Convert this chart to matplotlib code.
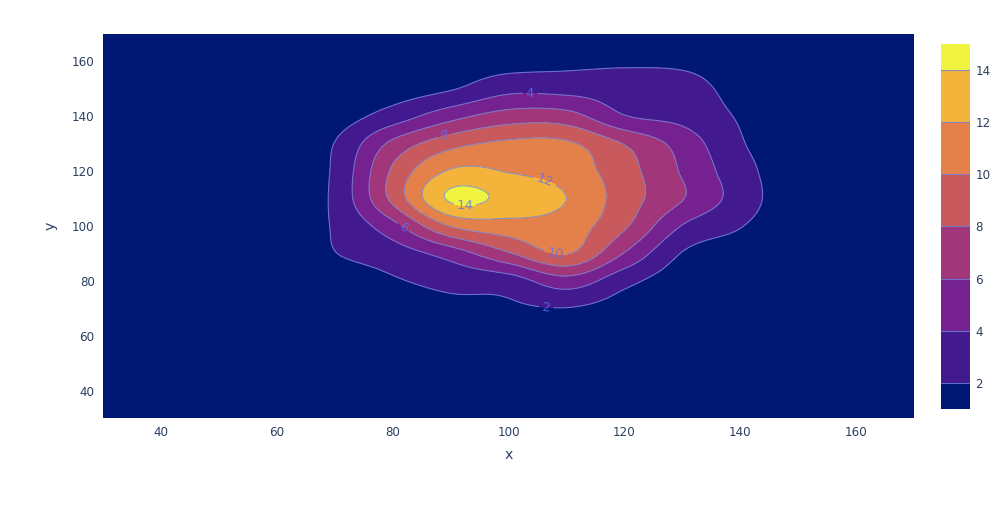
import numpy as np
import matplotlib
matplotlib.use('Agg')
import matplotlib.pyplot as plt
from matplotlib.colors import ListedColormap, BoundaryNorm
import matplotlib as mpl

plt.rcParams['font.family'] = ['DejaVu Sans']

# grid coordinates
xs = [30, 40, 50, 60, 70, 80, 90, 100, 110, 120, 130, 140, 150, 160, 170]
ys = [30, 40, 50, 60, 70, 80, 90, 100, 110, 120, 130, 140, 150, 160, 170]

# z values, one row per y (bottom to top)
z = [
    [.5, .5, .5, .5, .5, .5, .5, .5, .5, .5, .5, .5, .5, .5, .5],
    [.5, .5, .5, .5, .5, .5, .5, .5, .5, .5, .5, .5, .5, .5, .5],
    [.5, .5, .5, .5, .5, .5, .5, .5, .5, .5, .5, .5, .5, .5, .5],
    [.5, .5, .5, .5, .5, .6, .7, .8, .9, .7, .5, .5, .5, .5, .5],
    [.5, .5, .5, .5, .6, 1.0, 1.5, 1.7, 1.95, 1.2, .8, .6, .5, .5, .5],
    [.5, .5, .5, .5, 1.0, 1.8, 2.6, 3.0, 5.2, 2.6, 1.0, .6, .5, .5, .5],
    [.5, .5, .5, .5, 1.95, 3.0, 4.9, 7.8, 10.1, 5.9, 1.9, 1.0, .5, .5, .5],
    [.5, .5, .5, .6, 2.2, 5.3, 10.1, 11.2, 11.0, 8.3, 3.9, 2.1, .6, .5, .5],
    [.5, .5, .5, .6, 2.4, 8.5, 14.3, 13.4, 12.0, 9.0, 6.1, 3.1, .6, .5, .5],
    [.5, .5, .5, .6, 2.3, 8.3, 12.2, 11.9, 11.1, 8.8, 5.8, 2.8, .6, .5, .5],
    [.5, .5, .5, .6, 2.05, 6.5, 9.3, 10.4, 10.3, 7.9, 5.2, 2.2, .6, .5, .5],
    [.5, .5, .5, .5, 1.1, 2.9, 5.3, 6.9, 6.8, 4.1, 3.4, 1.8, .5, .5, .5],
    [.5, .5, .5, .5, .8, 1.1, 1.85, 3.4, 3.3, 3.0, 2.8, 1.3, .5, .5, .5],
    [.5, .5, .5, .5, .5, .6, 1.0, 1.2, 1.5, 1.7, 1.6, 1.0, .5, .5, .5],
    [.5, .5, .5, .5, .5, .5, .5, .5, .5, .5, .5, .5, .5, .5, .5],
]

levels = [2, 4, 6, 8, 10, 12, 14]
band_colors = ['#001774', '#43198f', '#75218f', '#a2367a', '#c85a5e',
               '#e4814a', '#f4b33b', '#f0f33f']
label_spots = [(106.5, 69.3), (103.7, 148.5), (81.8, 99.5), (88.7, 134),
               (108.1, 89.3), (106, 114.7), (92.5, 107.8)]


def cr_up(a, n, axis):
    # catmull-rom resampling along one axis, only to smooth the drawn lines
    a = np.moveaxis(a, axis, 0)
    m = a.shape[0]
    t = np.linspace(0, m - 1, (m - 1) * n + 1)
    i = np.clip(np.floor(t).astype(int), 0, m - 2)
    f = (t - i).reshape((-1,) + (1,) * (a.ndim - 1))
    p0 = a[np.clip(i - 1, 0, m - 1)]
    p1 = a[i]
    p2 = a[i + 1]
    p3 = a[np.clip(i + 2, 0, m - 1)]
    out = 0.5 * (2 * p1 + (-p0 + p2) * f + (2 * p0 - 5 * p1 + 4 * p2 - p3) * f ** 2
                 + (-p0 + 3 * p1 - 3 * p2 + p3) * f ** 3)
    return np.moveaxis(out, 0, axis)


Z = np.array(z, dtype=float)
k = 10
Zs = cr_up(cr_up(Z, k, 0), k, 1)
Xs = np.linspace(xs[0], xs[-1], Zs.shape[1])
Ys = np.linspace(ys[0], ys[-1], Zs.shape[0])

fig = plt.figure(figsize=(10.07, 5.08), dpi=100)
ax = fig.add_axes([0.1023, 0.1772, 0.8054, 0.7559])
ax.set_facecolor(band_colors[0])

fill_levels = [-100] + levels + [100]
ax.contourf(Xs, Ys, Zs, levels=fill_levels, colors=band_colors)
cs = ax.contour(Xs, Ys, Zs, levels=levels, colors='#7384dc', linewidths=0.8, alpha=0.8)
ax.clabel(cs, levels, inline=True, fontsize=9.5, colors='#5b70f0', fmt='%d',
          manual=label_spots, inline_spacing=3)

ax.set_xlim(30, 170)
ax.set_ylim(30, 170)
ax.set_xticks([40, 60, 80, 100, 120, 140, 160])
ax.set_yticks([40, 60, 80, 100, 120, 140, 160])
ax.tick_params(length=0, labelsize=8.6, colors='#2a3f5f', pad=6)
for s in ax.spines.values():
    s.set_visible(False)
ax.set_xlabel('x', fontsize=10.2, color='#2a3f5f', labelpad=6)
ax.set_ylabel('y', fontsize=10.2, color='#2a3f5f', labelpad=10)

# colorbar
cax = fig.add_axes([0.9345, 0.1949, 0.0288, 0.7185])
bounds = [1] + levels + [15]
cmap = ListedColormap(band_colors)
norm = BoundaryNorm(bounds, cmap.N)
cb = mpl.colorbar.ColorbarBase(cax, cmap=cmap, norm=norm, boundaries=bounds,
                               spacing='proportional', ticks=levels)
cb.outline.set_visible(False)
cax.minorticks_off()
for lv in levels:
    cax.axhline(lv, color='#7384dc', lw=0.8, alpha=0.8)
cax.tick_params(length=0, labelsize=8.6, colors='#2a3f5f', pad=4)

fig.savefig('out.png', dpi=100)
